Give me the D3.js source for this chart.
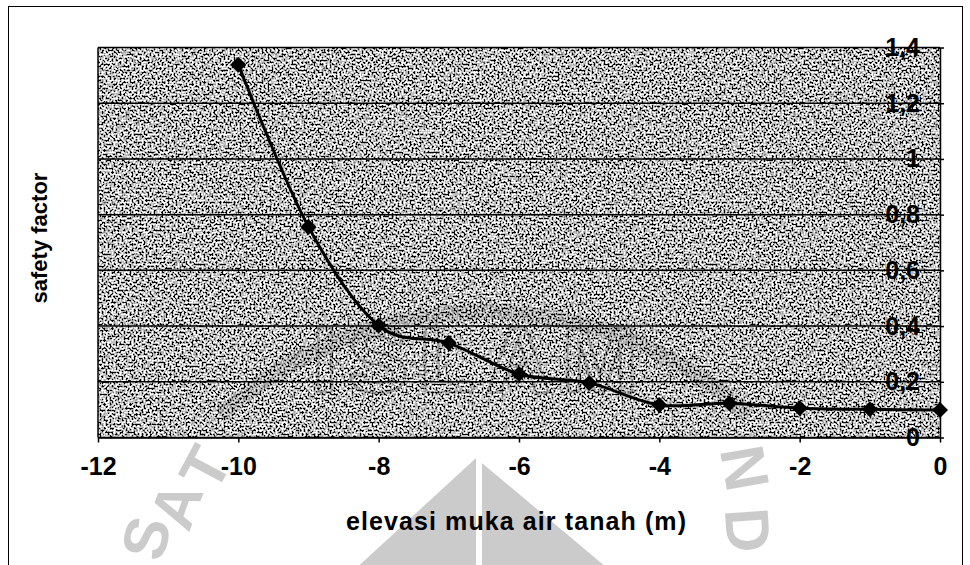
<!DOCTYPE html>
<html>
<head>
<meta charset="utf-8">
<script src="https://cdn.jsdelivr.net/npm/d3@7"></script>
<style>
  html, body { margin: 0; padding: 0; background: #fff; }
  svg { display: block; font-family: "Liberation Sans", Arial, sans-serif; }
</style>
</head>
<body>
<div id="chart"></div>
<script>
// safety factor vs elevasi muka air tanah — Excel-style smoothed line, grey grain plot area

const elevasi = [-10, -9, -8, -7, -6, -5, -4, -3, -2, -1, 0];
const safetyFactor = [1.338, 0.756, 0.402, 0.339, 0.228, 0.196, 0.117, 0.123, 0.105, 0.101, 0.099];
const xTicks = [-12, -10, -8, -6, -4, -2, 0];
const yTicks = [0, 0.2, 0.4, 0.6, 0.8, 1, 1.2, 1.4];

const W = 970, H = 565;
const plot = { left: 98, right: 940, top: 47.5, bottom: 437.5 };

const svg = d3.select("#chart").append("svg")
  .attr("width", W).attr("height", H).attr("viewBox", `0 0 ${W} ${H}`);

// grain texture for the plot area
const defs = svg.append("defs");
const grain = defs.append("filter").attr("id", "grain")
  .attr("x", 0).attr("y", 0).attr("width", 1).attr("height", 1);
grain.append("feTurbulence").attr("type", "fractalNoise")
  .attr("baseFrequency", 0.5).attr("numOctaves", 2).attr("seed", 7).attr("result", "n");
grain.append("feColorMatrix").attr("type", "matrix")
  .attr("values", "1 0 0 0 0  1 0 0 0 0  1 0 0 0 0  0 0 0 0 1").attr("result", "g");
const ct = grain.append("feComponentTransfer");
["feFuncR", "feFuncG", "feFuncB"].forEach(f =>
  ct.append(f).attr("type", "linear").attr("slope", 5).attr("intercept", -2.0));

svg.append("rect").attr("width", W).attr("height", H).attr("fill", "#fff");
svg.append("rect")
  .attr("x", 8.5).attr("y", 6.5).attr("width", 954).attr("height", 600)
  .attr("fill", "none").attr("stroke", "#000").attr("stroke-width", 1);

const x = d3.scaleLinear().domain([-12, 0]).range([plot.left, plot.right]);
const y = d3.scaleLinear().domain([0, 1.4]).range([plot.bottom, plot.top]);

svg.append("rect")
  .attr("x", plot.left).attr("y", plot.top)
  .attr("width", plot.right - plot.left).attr("height", plot.bottom - plot.top)
  .attr("fill", "#888").attr("filter", "url(#grain)");

// faint watermark (scanned page logo)
const wm = svg.append("g").attr("fill", "#000").attr("opacity", 0.2);
wm.append("path")
  .attr("d", d3.arc()({ innerRadius: 380, outerRadius: 396, startAngle: -0.75, endAngle: 0.75 }))
  .attr("transform", "translate(485,700)").attr("opacity", 0.6);
wm.append("text").attr("x", 480).attr("y", 392).attr("text-anchor", "middle")
  .attr("font-size", 92).attr("font-weight", "bold").attr("letter-spacing", 10)
  .attr("fill", "none").attr("stroke", "#000").attr("stroke-width", 3).text("ISLAM");
wm.append("path").attr("d", "M476,458 L352,572 L612,572 Z");
wm.append("rect").attr("x", 476).attr("y", 455).attr("width", 6).attr("height", 120).attr("fill", "#fff").attr("opacity", 1);
[["T", 205, 468, -62], ["A", 176, 505, -70], ["S", 146, 538, -76],
 ["N", 745, 468, 80], ["D", 748, 530, 86]].forEach(([t, tx, ty, r]) =>
  wm.append("text").attr("transform", `translate(${tx},${ty}) rotate(${r})`)
    .attr("text-anchor", "middle").attr("dy", "0.35em")
    .attr("font-size", 62).attr("font-weight", "bold").text(t));

// gridlines
svg.append("g").selectAll("line").data(yTicks).join("line")
  .attr("x1", plot.left).attr("x2", plot.right)
  .attr("y1", d => y(d)).attr("y2", d => y(d))
  .attr("stroke", "#000").attr("stroke-width", 1.5);

// axes
const gx = svg.append("g").attr("transform", `translate(0,${plot.bottom})`)
  .call(d3.axisBottom(x).tickValues(xTicks).tickSize(5).tickSizeOuter(0).tickFormat(d3.format("d")));
gx.select(".domain").attr("stroke", "#000").attr("stroke-width", 1.5);
gx.selectAll(".tick line").attr("stroke", "#000").attr("stroke-width", 1.5);
gx.selectAll(".tick text").attr("y", 37).attr("dy", 0)
  .attr("font-size", 25).attr("font-weight", "bold").attr("fill", "#000")
  .attr("font-family", "Liberation Sans, Arial, sans-serif")
  .text(d => String(d).replace("\u2212", "-"));

const commaFmt = d3.formatLocale({ decimal: ",", thousands: ".", grouping: [3], currency: ["", ""] }).format("~g");
const gy = svg.append("g").attr("transform", `translate(${plot.right},0)`)
  .call(d3.axisRight(y).tickValues(yTicks).tickSize(4).tickSizeOuter(0).tickFormat(commaFmt));
gy.select(".domain").attr("stroke", "#000").attr("stroke-width", 1.5);
gy.selectAll(".tick line").attr("stroke", "#000").attr("stroke-width", 1.5);
gy.selectAll(".tick text").attr("x", -20).attr("text-anchor", "end")
  .attr("font-size", 25).attr("font-weight", "bold").attr("fill", "#000")
  .attr("font-family", "Liberation Sans, Arial, sans-serif");

svg.append("line")
  .attr("x1", plot.left).attr("x2", plot.left).attr("y1", plot.top).attr("y2", plot.bottom)
  .attr("stroke", "#000").attr("stroke-width", 1.5);

// series
const pts = elevasi.map((e, i) => [e, safetyFactor[i]]);
svg.append("path").datum(pts)
  .attr("fill", "none").attr("stroke", "#000").attr("stroke-width", 3)
  .attr("d", d3.line().x(d => x(d[0])).y(d => y(d[1])).curve(d3.curveCardinal.tension(0)));

svg.append("g").selectAll("path").data(pts).join("path")
  .attr("d", d3.symbol(d3.symbolSquare, 128))
  .attr("transform", d => `translate(${x(d[0])},${y(d[1])}) rotate(45)`)
  .attr("fill", "#000");

// axis titles
svg.append("text")
  .attr("x", 516).attr("y", 530).attr("text-anchor", "middle")
  .attr("font-size", 25).attr("font-weight", "bold")
  .attr("textLength", 340).attr("lengthAdjust", "spacing")
  .text("elevasi muka air tanah (m)");

svg.append("text")
  .attr("transform", "translate(47,238) rotate(-90)")
  .attr("text-anchor", "middle")
  .attr("font-size", 22).attr("font-weight", "bold")
  .text("safety factor");
</script>
</body>
</html>
